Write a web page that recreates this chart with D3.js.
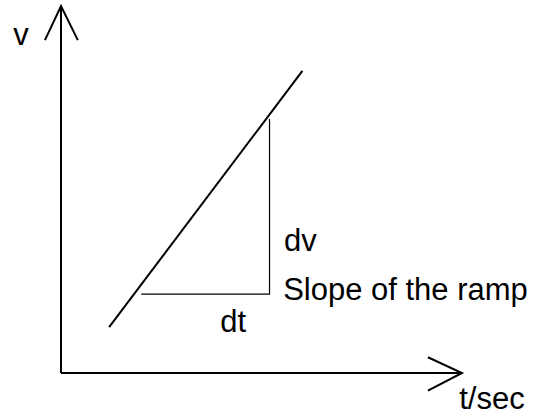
<!DOCTYPE html>
<html>
<head>
<meta charset="utf-8">
<script src="https://cdn.jsdelivr.net/npm/d3@7"></script>
<style>
  body { margin: 0; background: #fff; }
  text { font-family: "Liberation Sans", Arial, sans-serif; fill: #000; }
</style>
</head>
<body>
<svg id="chart" width="539" height="416"></svg>
<script>
// ramp line (t, v) in chart units
var rampT = [12, 60.2];
var rampV = [12.5, 82.3];

// dt / dv triangle
var triT = [20, 52, 52];
var triV = [21.5, 21.5, 69.2];

// axis arrowheads
var yArrowT = [-4, 0, 4.2];
var yArrowV = [90.7, 100, 90.7];
var xArrowT = [91.5, 100, 91.5];
var xArrowV = [4.3, 0, -4.8];

// labels
var labelText = ["v", "t/sec", "dv", "Slope of the ramp", "dt"];
var labelT = [-11.9, 99.3, 55.6, 55.4, 39.7];
var labelV = [89.3, -9.9, 33.2, 19.8, 11.2];

var svg = d3.select("#chart");

// scales: t along x, v along y
var x = d3.scaleLinear().domain([0, 100]).range([61, 462]);
var y = d3.scaleLinear().domain([0, 100]).range([373, 6]);

var line = d3.line()
    .x(function(d) { return x(d[0]); })
    .y(function(d) { return y(d[1]); });

// axes
svg.append("path")
    .attr("d", line([[0, 0], [0, 100]]))
    .attr("stroke", "#000").attr("stroke-width", 2).attr("fill", "none");
svg.append("path")
    .attr("d", line([[0, 0], [100, 0]]))
    .attr("stroke", "#000").attr("stroke-width", 2).attr("fill", "none");

// arrowheads
svg.append("path")
    .attr("d", line(d3.zip(yArrowT, yArrowV)))
    .attr("stroke", "#000").attr("stroke-width", 2).attr("fill", "none");
svg.append("path")
    .attr("d", line(d3.zip(xArrowT, xArrowV)))
    .attr("stroke", "#000").attr("stroke-width", 2).attr("fill", "none");

// ramp
svg.append("path")
    .attr("d", line(d3.zip(rampT, rampV)))
    .attr("stroke", "#000").attr("stroke-width", 2).attr("fill", "none");

// slope triangle
svg.append("path")
    .attr("d", line(d3.zip(triT, triV)))
    .attr("stroke", "#000").attr("stroke-width", 1.2).attr("fill", "none");

// labels
svg.selectAll(".label")
    .data(labelText)
  .enter().append("text")
    .attr("class", "label")
    .attr("x", function(d, i) { return x(labelT[i]); })
    .attr("y", function(d, i) { return y(labelV[i]); })
    .attr("font-size", 31)
    .text(function(d) { return d; });
</script>
</body>
</html>
